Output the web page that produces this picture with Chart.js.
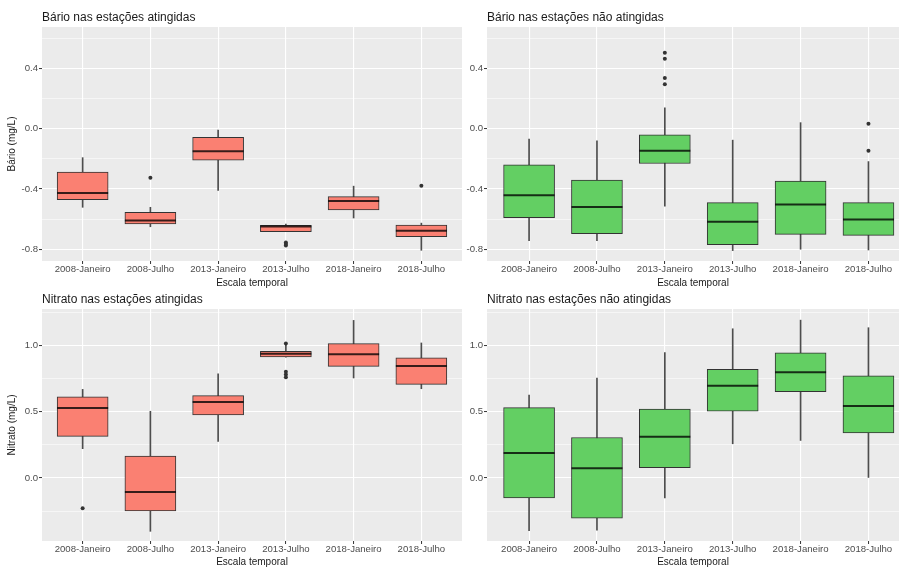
<!DOCTYPE html>
<html><head><meta charset="utf-8">
<script src="https://cdn.jsdelivr.net/npm/chart.js@4.4.1/dist/chart.umd.min.js"></script>
<style>
html,body{margin:0;padding:0;background:#fff;overflow:hidden;}
#wrap{position:relative;width:899px;height:570px;}
canvas{position:absolute;}
</style></head><body><div id="wrap">
<canvas id="c1" width="465" height="292" style="left:0px;top:0px"></canvas>
<canvas id="c2" width="434" height="292" style="left:465px;top:0px"></canvas>
<canvas id="c3" width="465" height="282" style="left:0px;top:288px"></canvas>
<canvas id="c4" width="434" height="282" style="left:465px;top:288px"></canvas>
</div>
<script>
// ---- categories and tick labels ----
const categories = ['2008-Janeiro','2008-Julho','2013-Janeiro','2013-Julho','2018-Janeiro','2018-Julho'];
const yTicksBario = [-0.8, -0.4, 0.0, 0.4];
const yTicksNitrato = [0.0, 0.5, 1.0];

// ---- Bário nas estações atingidas ----
const barioAtMin = [-0.522, -0.651, -0.411, -0.684, -0.593, -0.807];
const barioAtQ1  = [-0.471, -0.633, -0.209, -0.684, -0.540, -0.716];
const barioAtMed = [-0.427, -0.609, -0.151, -0.649, -0.480, -0.678];
const barioAtQ3  = [-0.289, -0.556, -0.058, -0.642, -0.451, -0.640];
const barioAtMax = [-0.193, -0.522, -0.011, -0.633, -0.382, -0.627];
const barioAtOutCat = [1, 3, 3, 3, 5];
const barioAtOutVal = [-0.327, -0.755, -0.765, -0.775, -0.380];

// ---- Bário nas estações não atingidas ----
const barioNaoMin = [-0.743, -0.743, -0.515, -0.809, -0.800, -0.805];
const barioNaoQ1  = [-0.590, -0.697, -0.232, -0.770, -0.702, -0.708];
const barioNaoMed = [-0.443, -0.520, -0.147, -0.618, -0.504, -0.603];
const barioNaoQ3  = [-0.241, -0.342, -0.042, -0.491, -0.349, -0.491];
const barioNaoMax = [-0.070, -0.081, 0.138, -0.077, 0.039, -0.219];
const barioNaoOutCat = [2, 2, 2, 2, 5, 5];
const barioNaoOutVal = [0.502, 0.462, 0.335, 0.293, 0.031, -0.147];

// ---- Nitrato nas estações atingidas ----
const nitratoAtMin = [0.221, -0.402, 0.276, 0.910, 0.754, 0.673];
const nitratoAtQ1  = [0.314, -0.249, 0.475, 0.912, 0.842, 0.706];
const nitratoAtMed = [0.528, -0.106, 0.573, 0.937, 0.932, 0.844];
const nitratoAtQ3  = [0.611, 0.166, 0.621, 0.955, 1.013, 0.905];
const nitratoAtMax = [0.668, 0.503, 0.786, 1.000, 1.188, 1.018];
const nitratoAtOutCat = [0, 3, 3, 3, 3];
const nitratoAtOutVal = [-0.229, 1.013, 0.800, 0.780, 0.760];

// ---- Nitrato nas estações não atingidas ----
const nitratoNaoMin = [-0.398, -0.393, -0.150, 0.258, 0.283, 0.000];
const nitratoNaoQ1  = [-0.150, -0.303, 0.078, 0.503, 0.650, 0.340];
const nitratoNaoMed = [0.188, 0.073, 0.310, 0.695, 0.798, 0.543];
const nitratoNaoQ3  = [0.530, 0.305, 0.520, 0.820, 0.943, 0.770];
const nitratoNaoMax = [0.625, 0.753, 0.945, 1.125, 1.190, 1.133];
const nitratoNaoOutCat = [];
const nitratoNaoOutVal = [];

const FONT = '"Liberation Sans", Arial, sans-serif';
const SALMON = '#FA8072';
const GREEN = '#63CF63';

const panelBg = {
  id: 'panelBg',
  beforeDraw(chart) {
    const {ctx, chartArea: a} = chart;
    ctx.save();
    ctx.fillStyle = '#EBEBEB';
    ctx.fillRect(a.left, a.top, a.right - a.left, a.bottom - a.top);
    ctx.restore();
  }
};

function minorTicks(majors, lo, hi) {
  const step = majors[1] - majors[0];
  const out = [];
  for (let i = -1; i < majors.length; i++) {
    const v = majors[0] + (i + 0.5) * step;
    if (v > lo && v < hi) out.push(v);
  }
  return out;
}

function makeChart(id, g, d) {
  const idx = categories.map((c, i) => i);
  const majors = d.majors;
  const isMajor = v => majors.some(m => Math.abs(m - v) < 1e-9);
  const allY = majors.concat(minorTicks(majors, g.yMin, g.yMax)).sort((a, b) => a - b);

  new Chart(document.getElementById(id), {
    type: 'bar',
    data: {
      datasets: [
        { type: 'bar', data: idx.map(i => ({x: i, y: [d.min[i], d.max[i]]})),
          backgroundColor: '#4d4d4d', borderWidth: 0, barThickness: 1, grouped: false, order: 4 },
        { type: 'bar', data: idx.map(i => ({x: i, y: [d.q1[i], d.q3[i]]})),
          backgroundColor: d.fill, borderColor: '#333333', borderWidth: 1, borderSkipped: false,
          barThickness: 51, grouped: false, order: 3 },
        { type: 'line', data: idx.map(i => ({x: i, y: d.med[i]})), showLine: false,
          pointStyle: 'line', pointRadius: 25.5, pointBorderWidth: 2,
          pointBorderColor: 'rgba(0,0,0,0.78)', order: 2 },
        { type: 'line', data: d.outCat.map((c, k) => ({x: c, y: d.outVal[k]})), showLine: false,
          pointStyle: 'circle', pointRadius: 2, pointBackgroundColor: '#333333',
          pointBorderWidth: 0, order: 1 }
      ]
    },
    options: {
      responsive: false, animation: false, events: [],
      layout: { autoPadding: false, padding: { left: 0, right: g.padRight, top: 0, bottom: 0 } },
      plugins: {
        legend: { display: false },
        tooltip: { enabled: false },
        title: { display: true, text: g.title, align: 'start', fullSize: false, color: '#1a1a1a',
          font: { family: FONT, size: 12, weight: 'normal', lineHeight: 1.2 },
          padding: { top: g.titleTop, bottom: g.titleBottom } }
      },
      scales: {
        x: {
          type: 'linear', min: g.xMin, max: g.xMax, offset: false,
          afterBuildTicks: s => { s.ticks = idx.map(v => ({value: v})); },
          afterFit: s => { s.height = g.xH; s.paddingLeft = 0; s.paddingRight = 0; },
          grid: { offset: false, color: '#ffffff', lineWidth: 1.1, tickLength: 3, tickColor: '#333333', tickWidth: 1 },
          border: { display: false },
          ticks: { autoSkip: false, maxRotation: 0, minRotation: 0, padding: 0, color: '#4d4d4d',
            font: { family: FONT, size: 9.6 }, callback: v => categories[v] ?? '' },
          title: { display: true, text: 'Escala temporal', color: '#1a1a1a',
            font: { family: FONT, size: 10 }, padding: { top: 0, bottom: g.xTitleBottom } }
        },
        y: {
          type: 'linear', min: g.yMin, max: g.yMax,
          afterBuildTicks: s => { s.ticks = allY.map(v => ({value: v})); },
          afterFit: s => { s.width = g.yW; s.paddingTop = 0; s.paddingBottom = 0; },
          grid: {
            color: '#ffffff',
            lineWidth: c => (c.tick && isMajor(c.tick.value)) ? 1.1 : 0.55,
            tickLength: 3, tickWidth: 1,
            tickColor: c => (c.tick && isMajor(c.tick.value)) ? '#333333' : 'rgba(0,0,0,0)'
          },
          border: { display: false },
          ticks: { padding: 1, color: '#4d4d4d', font: { family: FONT, size: 9.6 },
            callback: v => isMajor(v) ? v.toFixed(1) : '' },
          title: g.yTitle ? { display: true, text: g.yTitle, color: '#1a1a1a',
            font: { family: FONT, size: 10 }, padding: { top: 6, bottom: 0 } } : { display: false }
        }
      }
    },
    plugins: [panelBg]
  });
}

const topLeft  = { title: 'Bário nas estações atingidas', yTitle: 'Bário (mg/L)', yW: 42, padRight: 3,
  titleTop: 10, titleBottom: 2.6, xH: 31, xTitleBottom: 3, xMin: -0.6, xMax: 5.6, yMin: -0.878, yMax: 0.673 };
const topRight = { title: 'Bário nas estações não atingidas', yTitle: null, yW: 22, padRight: 0,
  titleTop: 10, titleBottom: 2.6, xH: 31, xTitleBottom: 3, xMin: -0.62, xMax: 5.45, yMin: -0.878, yMax: 0.673 };
const botLeft  = { title: 'Nitrato nas estações atingidas', yTitle: 'Nitrato (mg/L)', yW: 42, padRight: 3,
  titleTop: 4.8, titleBottom: 1.8, xH: 29, xTitleBottom: 2, xMin: -0.6, xMax: 5.6, yMin: -0.475, yMax: 1.274 };
const botRight = { title: 'Nitrato nas estações não atingidas', yTitle: null, yW: 22, padRight: 0,
  titleTop: 4.8, titleBottom: 1.8, xH: 29, xTitleBottom: 2, xMin: -0.62, xMax: 5.45, yMin: -0.475, yMax: 1.274 };

makeChart('c1', topLeft, { majors: yTicksBario, fill: SALMON, min: barioAtMin, q1: barioAtQ1, med: barioAtMed,
  q3: barioAtQ3, max: barioAtMax, outCat: barioAtOutCat, outVal: barioAtOutVal });
makeChart('c2', topRight, { majors: yTicksBario, fill: GREEN, min: barioNaoMin, q1: barioNaoQ1, med: barioNaoMed,
  q3: barioNaoQ3, max: barioNaoMax, outCat: barioNaoOutCat, outVal: barioNaoOutVal });
makeChart('c3', botLeft, { majors: yTicksNitrato, fill: SALMON, min: nitratoAtMin, q1: nitratoAtQ1, med: nitratoAtMed,
  q3: nitratoAtQ3, max: nitratoAtMax, outCat: nitratoAtOutCat, outVal: nitratoAtOutVal });
makeChart('c4', botRight, { majors: yTicksNitrato, fill: GREEN, min: nitratoNaoMin, q1: nitratoNaoQ1, med: nitratoNaoMed,
  q3: nitratoNaoQ3, max: nitratoNaoMax, outCat: nitratoNaoOutCat, outVal: nitratoNaoOutVal });
</script>
</body></html>
